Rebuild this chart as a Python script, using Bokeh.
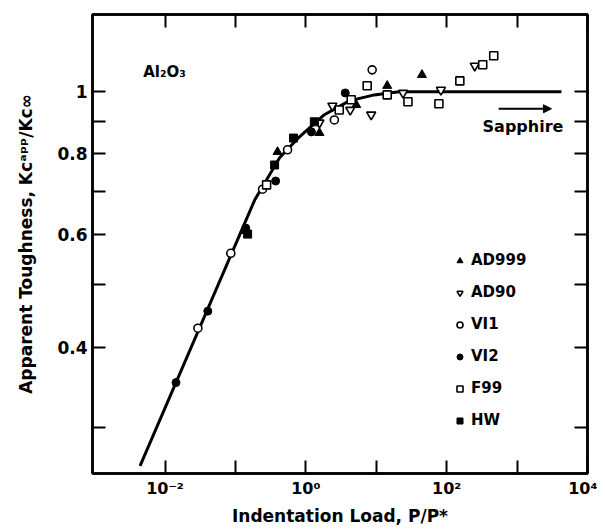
from bokeh.plotting import figure
from bokeh.models import LogAxis, FixedTicker, Legend, LegendItem, Label, Arrow, NormalHead
from bokeh.embed import file_html
from bokeh.resources import INLINE

# ---- data ----
ad999_x = [0.131, 0.396, 1.56, 5.2, 14.3, 44.6]
ad999_y = [0.607, 0.806, 0.863, 0.954, 1.022, 1.063]

ad90_x = [1.56, 2.38, 4.27, 8.47, 24.0, 82.8, 250.6]
ad90_y = [0.895, 0.951, 0.937, 0.921, 0.996, 1.007, 1.098]

vi1_x = [0.0293, 0.0859, 0.243, 0.550, 2.54, 8.75]
vi1_y = [0.428, 0.560, 0.705, 0.812, 0.904, 1.082]

vi2_x = [0.0143, 0.0405, 0.140, 0.372, 1.20, 3.63]
vi2_y = [0.352, 0.455, 0.613, 0.726, 0.866, 0.996]

f99_x = [0.277, 2.98, 4.41, 7.43, 14.3, 28.2, 77.6, 153.8, 325.0, 466.0]
f99_y = [0.716, 0.937, 0.972, 1.022, 0.989, 0.965, 0.958, 1.040, 1.102, 1.138]

hw_x = [0.149, 0.360, 0.668, 1.32]
hw_y = [0.600, 0.769, 0.847, 0.898]

curve_x = [0.00442, 0.1875, 0.424, 0.812, 1.83, 4.14, 9.34, 21.1, 4270.0]
curve_y = [0.261, 0.678, 0.789, 0.851, 0.921, 0.968, 0.989, 1.0, 1.0]

arrow_x = [547.0, 3076.0]
arrow_y = 0.941

x_ticks = [1e-2, 1e-1, 1e0, 1e1, 1e2, 1e3, 1e4]
x_tick_labels = ["10⁻²", "", "10⁰", "", "10²", "", "10⁴"]
y_ticks = [0.3, 0.4, 0.5, 0.6, 0.7, 0.8, 0.9, 1.0]
y_tick_labels = ["", "0.4", "", "0.6", "", "0.8", "", "1"]

FONT = "DejaVu Sans"

p = figure(width=597, height=529, x_axis_type="log", y_axis_type="log",
           x_range=(10 ** -3.03, 1e4), y_range=(0.254, 1.32),
           output_backend="svg", toolbar_location=None,
           min_border_left=92, min_border_right=10, min_border_top=14, min_border_bottom=56)

p.grid.visible = False
p.outline_line_color = "black"
p.outline_line_width = 2.5
p.background_fill_color = "white"

bottom_axis = p.below[0]
left_axis = p.left[0]
top_axis = LogAxis()
right_axis = LogAxis()
p.add_layout(top_axis, "above")
p.add_layout(right_axis, "right")

for ax in [bottom_axis, top_axis]:
    ax.ticker = FixedTicker(ticks=x_ticks)
for ax in [left_axis, right_axis]:
    ax.ticker = FixedTicker(ticks=y_ticks)

bottom_axis.major_label_overrides = {v: t for v, t in zip(x_ticks, x_tick_labels)}
left_axis.major_label_overrides = {v: t for v, t in zip(y_ticks, y_tick_labels)}
top_axis.major_label_overrides = {v: "" for v in x_ticks}
right_axis.major_label_overrides = {v: "" for v in y_ticks}

for ax in [bottom_axis, left_axis, top_axis, right_axis]:
    ax.axis_line_width = 2.5
    ax.axis_line_color = "black"
    ax.major_tick_line_width = 2
    ax.major_tick_line_color = "black"
    ax.major_tick_in = 13
    ax.major_tick_out = 0
    ax.minor_tick_line_color = None
    ax.major_label_text_font = FONT
    ax.major_label_text_font_style = "bold"
    ax.major_label_text_color = "black"

for ax in [top_axis, right_axis]:
    ax.major_label_standoff = 0

bottom_axis.major_label_text_font_size = "16px"
bottom_axis.major_label_standoff = 5
left_axis.major_label_text_font_size = "17px"
left_axis.major_label_standoff = 5

bottom_axis.axis_label = "Indentation Load, P/P*"
left_axis.axis_label = "Apparent Toughness, Kcᵃᵖᵖ/Kc∞"
for ax in [bottom_axis, left_axis]:
    ax.axis_label_text_font = FONT
    ax.axis_label_text_font_style = "bold"
    ax.axis_label_text_font_size = "17px"
    ax.axis_label_text_color = "black"
bottom_axis.axis_label_standoff = 5
left_axis.axis_label_standoff = 18

# curve
p.line(curve_x, curve_y, line_color="black", line_width=3)

r_ad999 = p.scatter(ad999_x, ad999_y, marker="triangle", size=9,
                    fill_color="black", line_color="black", line_width=1)
r_ad90 = p.scatter(ad90_x, ad90_y, marker="inverted_triangle", size=9,
                   fill_color="white", line_color="black", line_width=1.6)
r_vi1 = p.scatter(vi1_x, vi1_y, marker="circle", size=8,
                  fill_color="white", line_color="black", line_width=1.6)
r_vi2 = p.scatter(vi2_x, vi2_y, marker="circle", size=8,
                  fill_color="black", line_color="black", line_width=1)
r_f99 = p.scatter(f99_x, f99_y, marker="square", size=8,
                  fill_color="white", line_color="black", line_width=1.6)
r_hw = p.scatter(hw_x, hw_y, marker="square", size=8,
                 fill_color="black", line_color="black", line_width=1)

legend = Legend(items=[
    LegendItem(label="AD999", renderers=[r_ad999]),
    LegendItem(label="AD90", renderers=[r_ad90]),
    LegendItem(label="VI1", renderers=[r_vi1]),
    LegendItem(label="VI2", renderers=[r_vi2]),
    LegendItem(label="F99", renderers=[r_f99]),
    LegendItem(label="HW", renderers=[r_hw]),
], location=(360, 43), glyph_width=15, glyph_height=15, label_height=20,
    spacing=12, label_standoff=4, padding=0, margin=0,
    border_line_color=None, background_fill_alpha=0,
    label_text_font=FONT, label_text_font_style="bold", label_text_font_size="15px",
    label_text_color="black")
p.add_layout(legend)

p.add_layout(Label(x=0.00489, y=1.075, text="Al₂O₃", text_baseline="middle",
                   text_font=FONT, text_font_style="bold", text_font_size="15px",
                   text_color="black"))
p.add_layout(Label(x=4550, y=0.882, text="Sapphire", text_align="right", text_baseline="middle",
                   text_font=FONT, text_font_style="bold", text_font_size="16px",
                   text_color="black"))
p.add_layout(Arrow(end=NormalHead(size=8, fill_color="black", line_color="black"),
                   x_start=arrow_x[0], y_start=arrow_y, x_end=arrow_x[1], y_end=arrow_y,
                   line_width=2, line_color="black"))

open("out.html", "w").write(file_html(p, INLINE))
